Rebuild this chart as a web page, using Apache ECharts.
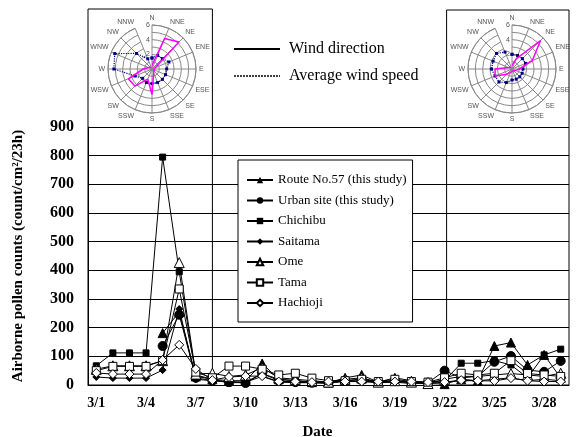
<!DOCTYPE html>
<html><head><meta charset="utf-8">
<script src="https://cdn.jsdelivr.net/npm/echarts@6/dist/echarts.min.js"></script>
<style>html,body{margin:0;padding:0;background:#fff}#c{width:576px;height:437px}</style>
</head><body><div id="c"></div>
<script>
// ---- data ----
const dates = ['3/1','3/2','3/3','3/4','3/5','3/6','3/7','3/8','3/9','3/10','3/11','3/12','3/13','3/14','3/15','3/16','3/17','3/18','3/19','3/20','3/21','3/22','3/23','3/24','3/25','3/26','3/27','3/28','3/29'];
const route57  = [null,null,null,null,181,255,30,20,15,15,75,20,15,10,8,25,35,10,25,15,5,3,20,15,136,148,70,105,25];
const urban    = [null,null,null,null,136,245,25,15,10,7,40,15,10,8,8,15,20,10,15,10,8,50,25,30,81,101,52,46,84];
const chichibu = [67,112,112,112,795,395,35,20,7,10,40,20,15,10,8,12,15,8,12,8,10,15,76,76,85,70,25,105,125];
const saitama  = [28,24,24,24,52,265,20,15,12,10,30,10,8,8,5,15,12,8,10,5,5,10,15,15,20,25,15,20,15];
const ome      = [55,67,67,67,85,427,38,41,30,35,60,25,20,15,10,20,25,10,15,10,5,20,30,30,35,40,35,30,41];
const tama     = [50,65,65,65,85,335,45,25,66,66,55,35,41,24,15,15,20,12,20,12,10,25,41,35,41,85,40,35,30];
const hachioji = [42,38,38,38,87,140,56,17,28,31,31,12,12,10,12,12,12,12,12,12,10,10,17,15,14,24,15,12,12];
const yMax = 900, yStep = 100;

const directions = ['N','NNE','NE','ENE','E','ESE','SE','SSE','S','SSW','SW','WSW','W','WNW','NW','NNW'];
const windDirLeft  = [0.5,4.5,5.2,0.5,0.4,0.3,0.3,0.6,3.5,1.5,3.3,3.5,1.2,0.5,0.3,0.3];
const windSpdLeft  = [1.5,2.0,2.0,2.5,2.0,2.0,2.0,2.0,2.0,2.0,1.8,2.5,5.2,5.5,3.0,1.5];
const windDirRight = [0.5,1.5,5.5,3.0,1.0,0.5,0.3,0.3,0.5,0.5,1.0,2.5,2.3,0.5,0.3,0.3];
const windSpdRight = [2.0,2.0,2.0,2.0,1.5,1.5,1.5,1.5,1.5,2.0,2.5,2.5,2.8,2.8,3.0,2.5];
const roseMax = 6;
const leftPeriodEnd = '3/8', rightPeriodStart = '3/22';

// ---- chart ----
const serif = '"Liberation Serif","Times New Roman",serif';
const sans = '"Liberation Sans",Arial,sans-serif';
const chart = echarts.init(document.getElementById('c'));
const G = {left: 88, right: 7, top: 127, bottom: 52, containLabel:false, outerBoundsMode:'none'};

function loop(vals){ const d = directions.map((n,i)=>[vals[i], n]); d.push([vals[0], directions[0]]); return d; }
function pollen(name, data, symbol, size, open){
  return {name, type:'line', data, symbol, symbolSize:size, showSymbol:true,
    lineStyle:{color:'#000', width:1},
    itemStyle: open ? {color:'#fff', borderColor:'#000', borderWidth:1} : {color:'#000', borderColor:'#000'},
    emphasis:{disabled:true}};
}
function roseAxes(idx){
  return {
    angle: {polarIndex:idx, type:'category', data:directions, startAngle:90, boundaryGap:false,
      axisLine:{lineStyle:{color:'#888', width:1}}, axisTick:{show:false},
      axisLabel:{fontSize:7, color:'#555', fontFamily:sans, margin:3},
      splitLine:{show:true, lineStyle:{color:'#888', width:1}}},
    radius: {polarIndex:idx, min:0, max:roseMax, interval:1,
      axisLine:{show:false}, axisTick:{show:false},
      axisLabel:{fontSize:7, color:'#555', fontFamily:sans, margin:2,
        formatter:v => (v>0 && v%2===0) ? String(v) : ''},
      splitLine:{show:true, lineStyle:{color:'#888', width:1}}}
  };
}
const rL = roseAxes(0), rR = roseAxes(1);

const option = {
  animation:false,
  backgroundColor:'#fff',
  grid: G,
  xAxis: {type:'category', data:dates, boundaryGap:true,
    axisLine:{lineStyle:{color:'#000', width:1}},
    axisTick:{inside:true, interval:2, length:5, lineStyle:{color:'#000'}},
    axisLabel:{interval:2, color:'#000', fontFamily:serif, fontWeight:'bold', fontSize:14, margin:11},
    name:'Date', nameLocation:'middle', nameGap:40,
    nameTextStyle:{color:'#000', fontFamily:serif, fontWeight:'bold', fontSize:15, padding:[0,22,0,0]}},
  yAxis: {type:'value', min:0, max:yMax, interval:yStep,
    axisLine:{show:true, lineStyle:{color:'#000', width:1}},
    axisTick:{show:false},
    axisLabel:{color:'#000', fontFamily:serif, fontWeight:'bold', fontSize:16, margin:14},
    splitLine:{lineStyle:{color:'#000', width:1}},
    name:'Airborne pollen counts (count/cm²/23h)', nameLocation:'middle', nameGap:62, nameRotate:90,
    nameTextStyle:{color:'#000', fontFamily:serif, fontWeight:'bold', fontSize:15}},
  polar: [{center:[152,69], radius:44}, {center:[512,69], radius:44}],
  angleAxis: [rL.angle, rR.angle],
  radiusAxis: [rL.radius, rR.radius],
  legend: [
    {data:['Route No.57 (this study)','Urban site (this study)','Chichibu','Saitama','Ome','Tama','Hachioji'],
     orient:'vertical', left:238, top:160, backgroundColor:'#fff', borderColor:'#000', borderWidth:1,
     padding:[13,6,12,8], itemGap:6.5, itemWidth:26, itemHeight:8, selectedMode:false,
     textStyle:{color:'#000', fontFamily:serif, fontSize:13, lineHeight:14}},
    {data:[{name:'Wind direction', lineStyle:{color:'#000', width:2, type:'solid'}, itemStyle:{opacity:0}},
           {name:'Average wind speed', lineStyle:{color:'#000', width:1.3, type:[2,1]}, itemStyle:{opacity:0}}],
     orient:'vertical', left:228, top:36, itemGap:11, itemWidth:46, itemHeight:16, selectedMode:false,
     textStyle:{color:'#000', fontFamily:serif, fontSize:16, padding:[0,0,0,4]}}
  ],
  series: [
    pollen('Route No.57 (this study)', route57, 'triangle', 9, false),
    pollen('Urban site (this study)', urban, 'circle', 9, false),
    pollen('Chichibu', chichibu, 'rect', 6, false),
    pollen('Saitama', saitama, 'diamond', 7, false),
    pollen('Ome', ome, 'triangle', 10, true),
    pollen('Tama', tama, 'rect', 8, true),
    pollen('Hachioji', hachioji, 'diamond', 9, true),
    {name:'Average wind speed', type:'line', coordinateSystem:'polar', polarIndex:0, data:loop(windSpdLeft),
     symbol:'rect', symbolSize:3, lineStyle:{color:'#000080', width:1.2, type:'dotted'}, itemStyle:{color:'#000080'}, z:5},
    {name:'Wind direction', type:'line', coordinateSystem:'polar', polarIndex:0, data:loop(windDirLeft),
     symbol:'none', lineStyle:{color:'#ff00ff', width:1.5}, itemStyle:{color:'#ff00ff'}, z:6},
    {name:'Average wind speed', type:'line', coordinateSystem:'polar', polarIndex:1, data:loop(windSpdRight),
     symbol:'rect', symbolSize:3, lineStyle:{color:'#000080', width:1.2, type:'dotted'}, itemStyle:{color:'#000080'}, z:5},
    {name:'Wind direction', type:'line', coordinateSystem:'polar', polarIndex:1, data:loop(windDirRight),
     symbol:'none', lineStyle:{color:'#ff00ff', width:1.5}, itemStyle:{color:'#ff00ff'}, z:6}
  ]
};
chart.setOption(option);

// period boxes tied to the category axis
const W = chart.getWidth(), H = chart.getHeight();
const xL0 = G.left, xR1 = W - G.right, yBot = H - G.bottom;
const x8 = chart.convertToPixel({xAxisIndex:0}, leftPeriodEnd);
const x22 = chart.convertToPixel({xAxisIndex:0}, rightPeriodStart) + 2;
chart.setOption({graphic:[
  {type:'rect', shape:{x:xL0, y:9, width:x8 - xL0, height:yBot - 9}, style:{fill:'none', stroke:'#000', lineWidth:1}, z:0},
  {type:'rect', shape:{x:x22, y:10, width:xR1 - x22, height:yBot - 10}, style:{fill:'none', stroke:'#000', lineWidth:1}, z:0}
]});
</script></body></html>
